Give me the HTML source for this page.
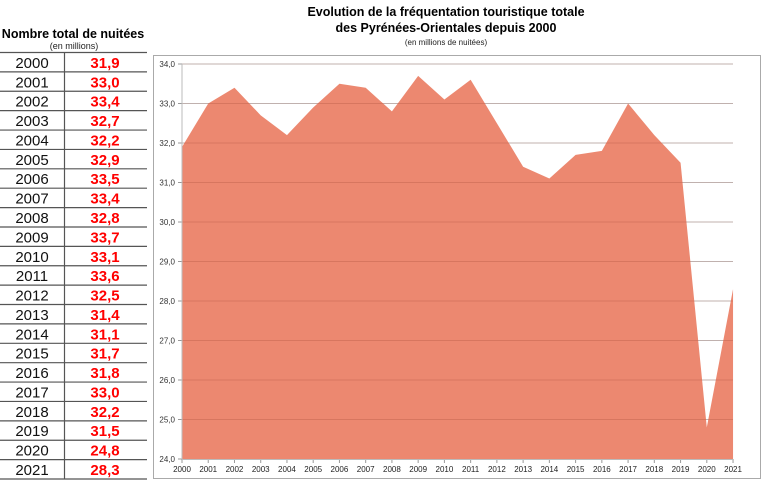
<!DOCTYPE html>
<html><head><meta charset="utf-8"><style>
body{margin:0;background:#fff;}
svg{display:block;font-family:"Liberation Sans",sans-serif;}
</style></head><body>
<svg width="770" height="495" viewBox="0 0 770 495" xmlns="http://www.w3.org/2000/svg">
<text x="73" y="38" font-size="12.5" font-weight="bold" text-anchor="middle" fill="#000">Nombre total de nuitées</text>
<text x="74" y="49" font-size="9" text-anchor="middle" fill="#222">(en millions)</text>
<g stroke="#555" stroke-width="1.2">
<line x1="0" y1="52.5" x2="147" y2="52.5"/>
<line x1="64.5" y1="52" x2="64.5" y2="479"/>
</g>
<g id="tbl" font-size="15">
</g>
<text x="446" y="16" font-size="12.5" font-weight="bold" text-anchor="middle">Evolution de la fréquentation touristique totale</text>
<text x="446" y="32" font-size="12.5" font-weight="bold" text-anchor="middle">des Pyrénées-Orientales depuis 2000</text>
<text x="446" y="45" font-size="8" text-anchor="middle" fill="#222">(en millions de nuitées)</text>
<rect x="153.5" y="55.5" width="607" height="423" fill="none" stroke="#aaa" stroke-width="1"/>
<g id="grid" stroke="#d0d0d0" stroke-width="1"></g>
<polygon fill="#ec8870" points="182,459 182,146.95 208.24,103.5 234.48,87.7 260.72,115.35 286.96,135.1 313.2,107.45 339.44,83.75 365.68,87.7 391.92,111.4 418.16,75.85 444.4,99.55 470.64,79.8 496.88,123.25 523.12,166.7 549.36,178.55 575.6,154.85 601.84,150.9 628.08,103.5 654.32,135.1 680.56,162.75 706.8,427.4 733.04,289.15 733.04,459"/>
<g id="grid2" stroke="rgba(120,40,20,0.18)" stroke-width="1"></g>
<line x1="182" y1="64" x2="182" y2="459" stroke="#bbb"/>
<line x1="182" y1="459.5" x2="733" y2="459.5" stroke="#bbb"/>
<g id="ylab" font-size="8" fill="#333" text-anchor="end"></g>
<g id="xlab" font-size="8" fill="#222" text-anchor="middle"></g>
</svg>
<script>
var ns="http://www.w3.org/2000/svg";
function el(p,t,a,txt){var e=document.createElementNS(ns,t);for(var k in a)e.setAttribute(k,a[k]);if(txt!=null)e.textContent=txt;document.getElementById(p).appendChild(e);}
var vals=["31,9","33,0","33,4","32,7","32,2","32,9","33,5","33,4","32,8","33,7","33,1","33,6","32,5","31,4","31,1","31,7","31,8","33,0","32,2","31,5","24,8","28,3"];
var rh=(479-52.5)/22;
for(var i=0;i<22;i++){
 var yb=52.5+(i+1)*rh;
 el("tbl","line",{x1:0,y1:yb,x2:147,y2:yb,stroke:"#555","stroke-width":1.2});
 el("tbl","text",{x:32,y:yb-4,"text-anchor":"middle",fill:"#111"},2000+i);
 el("tbl","text",{x:105,y:yb-4,"text-anchor":"middle",fill:"#ff0000","font-weight":"bold"},vals[i]);
}
for(var v=24;v<=34;v++){
 var y=64+(34-v)*39.5;
 if(v>24){el("grid","line",{x1:182,y1:y,x2:733,y2:y});el("grid2","line",{x1:182,y1:y,x2:733,y2:y});}
 el("grid","line",{x1:178,y1:y,x2:182,y2:y,stroke:"#999"});
 el("ylab","text",{x:175,y:y+3},v+",0");
}
for(var i=0;i<22;i++){
 var x=182+i*26.24;
 el("grid","line",{x1:x,y1:459,x2:x,y2:463,stroke:"#999"});
 el("xlab","text",{x:x,y:472},2000+i);
}
</script>
</body></html>
